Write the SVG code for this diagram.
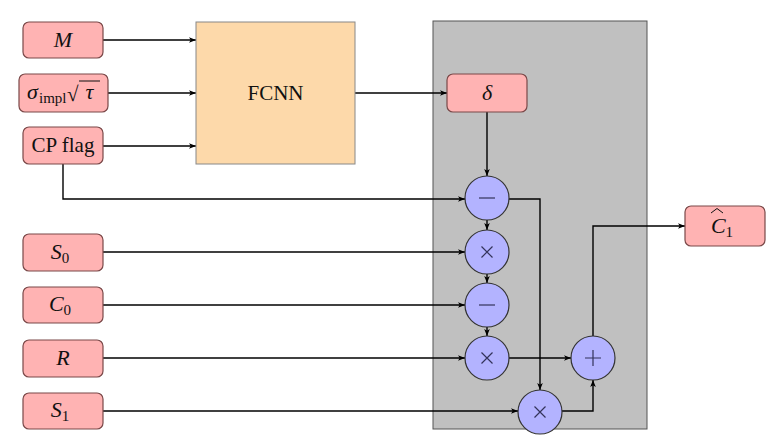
<svg xmlns="http://www.w3.org/2000/svg" width="775" height="445" viewBox="0 0 775 445">
<defs>
<marker id="ah" viewBox="0 0 10 10" refX="10" refY="5" markerWidth="7" markerHeight="7" orient="auto" markerUnits="userSpaceOnUse">
<path d="M0,1 L10,5 L0,9 L2.5,5 Z" fill="#000"/>
</marker>
<style>
.box{fill:#ffb3b3;stroke:#7a4848;stroke-width:1.2}
.op{fill:#b3b3ff;stroke:#333;stroke-width:1.2}
.sym{stroke:#33335a;stroke-width:1.2;fill:none}
text{font-family:'Liberation Serif','Times New Roman','DejaVu Serif',serif;fill:#111}
.m{font-style:italic;font-size:22px}
.sub{font-style:normal;font-size:15px}
.t{font-size:21px}
.c{fill:none;stroke:#000;stroke-width:1.4}
</style>
</defs>
<rect x="433" y="21" width="214" height="408" fill="#c0c0c0" stroke="#555" stroke-width="1"/>
<g id="connectors" class="c">
<path d="M103,40 H196" marker-end="url(#ah)"/>
<path d="M108,93 H196" marker-end="url(#ah)"/>
<path d="M103,146 H196" marker-end="url(#ah)"/>
<path d="M63,164 V199 H465" marker-end="url(#ah)"/>
<path d="M355,93 H447" marker-end="url(#ah)"/>
<path d="M487,112 V176" marker-end="url(#ah)"/>
<path d="M487,220 V230" marker-end="url(#ah)"/>
<path d="M103,252 H465" marker-end="url(#ah)"/>
<path d="M487,274 V283" marker-end="url(#ah)"/>
<path d="M103,305 H465" marker-end="url(#ah)"/>
<path d="M487,327 V336" marker-end="url(#ah)"/>
<path d="M103,358 H465" marker-end="url(#ah)"/>
<path d="M509,358 H571" marker-end="url(#ah)"/>
<path d="M509,199 H540 V390" marker-end="url(#ah)"/>
<path d="M103,411 H518" marker-end="url(#ah)"/>
<path d="M562,411 H593 V380" marker-end="url(#ah)"/>
<path d="M593,336 V226 H685" marker-end="url(#ah)"/>
</g>
<g id="M"><rect class="box" x="23" y="22" width="80" height="36" rx="6"/><text class="m" x="63" y="47" text-anchor="middle">M</text></g>
<g id="sigma"><rect class="box" x="19" y="74" width="89" height="38" rx="6"/>
<text class="m" x="27" y="99">σ</text>
<text class="sub" x="39" y="103">impl</text>
<text class="t" x="67" y="101" font-size="23">√</text>
<line x1="79" y1="81" x2="100" y2="81" stroke="#111" stroke-width="1"/>
<text class="m" x="89.5" y="99" text-anchor="middle">τ</text></g>
<g id="cpflag"><rect class="box" x="23" y="127" width="80" height="37" rx="6"/><text class="t" x="63" y="152" text-anchor="middle">CP flag</text></g>
<g id="fcnn"><rect x="196" y="22" width="159" height="142" fill="#fdd9aa" stroke="#888" stroke-width="1"/><text class="t" x="275.5" y="100" text-anchor="middle">FCNN</text></g>
<g id="delta"><rect class="box" x="447" y="74" width="80" height="38" rx="6"/><text class="m" x="487" y="100" text-anchor="middle">δ</text></g>
<g id="S0"><rect class="box" x="23" y="234" width="80" height="37" rx="6"/><text class="m" x="60" y="259" text-anchor="middle">S<tspan class="sub" dy="4">0</tspan></text></g>
<g id="C0"><rect class="box" x="23" y="287" width="80" height="36" rx="6"/><text class="m" x="60" y="311" text-anchor="middle">C<tspan class="sub" dy="4">0</tspan></text></g>
<g id="R"><rect class="box" x="23" y="340" width="80" height="37" rx="6"/><text class="m" x="63" y="365" text-anchor="middle">R</text></g>
<g id="S1"><rect class="box" x="23" y="393" width="80" height="36" rx="6"/><text class="m" x="60" y="417" text-anchor="middle">S<tspan class="sub" dy="4">1</tspan></text></g>
<g id="C1hat"><rect class="box" x="685" y="206" width="80" height="40" rx="6"/><text class="m" x="722" y="233" text-anchor="middle">C<tspan class="sub" dy="4">1</tspan></text><path d="M711,213 L717,208.5 L723,213" fill="none" stroke="#111" stroke-width="1"/></g>
<g id="minus1"><circle class="op" cx="487" cy="198" r="22"/><path class="sym" d="M479,198 H495"/></g>
<g id="times1"><circle class="op" cx="487" cy="252" r="22"/><path class="sym" d="M481.5,246.5 L492.5,257.5 M492.5,246.5 L481.5,257.5"/></g>
<g id="minus2"><circle class="op" cx="487" cy="305" r="22"/><path class="sym" d="M479,305 H495"/></g>
<g id="times2"><circle class="op" cx="487" cy="358" r="22"/><path class="sym" d="M481.5,352.5 L492.5,363.5 M492.5,352.5 L481.5,363.5"/></g>
<g id="plus"><circle class="op" cx="593" cy="358" r="22"/><path class="sym" d="M585,358 H601 M593,350 V366"/></g>
<g id="times3"><circle class="op" cx="540" cy="412" r="22"/><path class="sym" d="M534.5,406.5 L545.5,417.5 M545.5,406.5 L534.5,417.5"/></g>
</svg>
